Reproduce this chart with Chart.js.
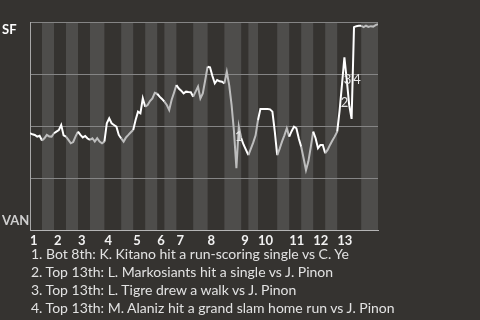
<!DOCTYPE html>
<html>
<head>
<meta charset="utf-8">
<script src="https://cdn.jsdelivr.net/npm/chart.js@4"></script>
<style>
  html, body { margin: 0; padding: 0; background: #353330; }
  #wrap { position: relative; width: 480px; height: 320px; overflow: hidden; }
  #notes { position: absolute; left: 31px; top: 245px; color: #e2e2e2;
           font: 14px Lato, "Noto Sans", sans-serif; line-height: 18px; white-space: nowrap; }
</style>
</head>
<body>
<div id="wrap">
  <canvas id="wpChart" width="480" height="248"></canvas>
  <div id="notes"></div>
</div>
<script>
var innings = ['1', '2', '3', '4', '5', '6', '7', '8', '9', '10', '11', '12', '13'];
// plate appearances in each half inning: top 1, bottom 1, top 2, ...
var halfLengths = [5, 5, 5, 5, 5, 6, 7, 5, 5, 5, 3, 5, 7, 6, 7, 7, 3, 4, 8, 5, 5, 5, 5, 5, 10, 7];
// SF win probability (%) after each plate appearance
var winProb = [
    46.5, 46, 45.7, 44.9, 45.3, 43, 44.1, 45.7, 45, 44.9,
    46.5, 47.3, 48, 50.5, 45.5, 44.9, 43.3, 41.7, 42.3, 45,
    47.3, 45.7, 44.5, 45.2, 44, 43.3, 44.1, 42.5, 44.1, 42.5,
    41.7, 42.5, 51.3, 53.7, 51.3, 50.5, 49.7, 45.7, 44, 42.5,
    44.5, 45.7, 47, 48.1, 52.9, 56.9, 56.1, 63.3, 59.3, 60.1,
    62, 63.3, 66, 65.5, 64.1, 63, 61.7, 60.1, 57.7, 62.5,
    66, 69.7, 68, 67, 65.7, 66.5, 66.3, 66.2, 64.1, 66.5,
    68.9, 63.3, 65.7, 72, 78.5, 78.2, 74, 70.5, 72.1, 71.5,
    71.3, 70.5, 76.1, 69.7, 60, 47.3, 29.7, 49.7, 44.2, 41,
    38.5, 36, 39, 42, 45.5, 52.9, 58.2, 58.2, 58.2, 58.2,
    58, 56.9, 47.3, 36, 39, 42.5, 45.5, 48.9, 44.9, 47.5,
    49.7, 48.9, 44, 40, 34.5, 28.8, 33, 40, 47.3, 44.1,
    39.3, 40.9, 40.9, 36.9, 38.5, 40.9, 43, 45, 47.3, 57.4,
    70, 83, 72, 60, 53.4, 97.5, 98, 98.2, 98.2, 97.5,
    98.2, 97.6, 98, 97.8, 98.5, 99
];
var yTicks = [0, 25, 50, 75, 100];
var teamTop = 'SF';
var teamBottom = 'VAN';
var notes = [
    '1. Bot 8th: K. Kitano hit a run-scoring single vs C. Ye',
    '2. Top 13th: L. Markosiants hit a single vs J. Pinon',
    '3. Top 13th: L. Tigre drew a walk vs J. Pinon',
    '4. Top 13th: M. Alaniz hit a grand slam home run vs J. Pinon'
];
var noteEvents = [87, 129, 131, 135];

// half inning start indices
var halfStarts = [0];
for (var i = 0; i < halfLengths.length; i++) {
    halfStarts.push(halfStarts[i] + halfLengths[i]);
}
var totalPA = halfStarts[halfStarts.length - 1];
var inningStarts = [];
for (var i = 0; i < innings.length; i++) inningStarts.push(halfStarts[i * 2]);

function isBottomHalf(idx) {
    for (var h = 0; h < halfLengths.length; h++) {
        if (idx >= halfStarts[h] && idx < halfStarts[h + 1]) return h % 2 == 1;
    }
    return true;
}

var points = winProb.map(function(v, i) { return {x: i, y: v}; });

document.getElementById('notes').innerHTML = notes.join('<br>');

// label offsets for the numbered events
var noteOffsets = [[0, 10], [5, -8], [3, 22], [3, 53]];

var stripes = {
    id: 'stripes',
    beforeDraw: function(chart) {
        var c = chart.ctx, a = chart.chartArea, x = chart.scales.x;
        c.save();
        c.fillStyle = '#353330';
        c.fillRect(0, 0, chart.width, chart.height);
        c.fillStyle = '#4e4d4b';
        for (var h = 1; h < halfLengths.length; h += 2) {
            var x0 = x.getPixelForValue(halfStarts[h]);
            var x1 = x.getPixelForValue(halfStarts[h + 1]);
            c.fillRect(x0, a.top, x1 - x0, a.bottom - a.top);
        }
        c.restore();
    },
    afterDraw: function(chart) {
        var c = chart.ctx, x = chart.scales.x, y = chart.scales.y;
        c.save();
        c.font = 'bold 13px Lato, "Noto Sans", sans-serif';
        c.textBaseline = 'middle';
        c.textAlign = 'left';
        c.fillStyle = '#ffffff';
        c.fillText(teamTop, 2, y.getPixelForValue(100) + 8);
        c.fillStyle = '#cfcfcf';
        c.fillText(teamBottom, 2, y.getPixelForValue(0) - 9);
        c.font = '13px Lato, "Noto Sans", sans-serif';
        c.textAlign = 'center';
        c.fillStyle = '#e6e6e6';
        for (var n = 0; n < noteEvents.length; n++) {
            var e = noteEvents[n];
            c.fillText(String(n + 1), x.getPixelForValue(e) + noteOffsets[n][0], y.getPixelForValue(winProb[e]) + noteOffsets[n][1]);
        }
        c.restore();
    }
};

var ctx = document.getElementById('wpChart').getContext('2d');
var wpChart = new Chart(ctx, {
    type: 'line',
    data: {
        datasets: [{
            data: points,
            borderColor: '#ffffff',
            borderWidth: 2,
            pointRadius: 0,
            tension: 0,
            segment: {
                borderColor: function(s) {
                    return isBottomHalf(s.p0DataIndex) ? '#bdbdbd' : '#ffffff';
                }
            }
        }]
    },
    plugins: [stripes],
    options: {
        responsive: false,
        animation: false,
        devicePixelRatio: 1,
        layout: { padding: { top: 22, right: 102, left: 0, bottom: 0 } },
        plugins: { legend: { display: false }, tooltip: { enabled: false } },
        scales: {
            x: {
                type: 'linear',
                min: 0,
                max: totalPA,
                afterBuildTicks: function(scale) {
                    scale.ticks = inningStarts.map(function(v) { return {value: v}; });
                },
                afterFit: function(scale) { scale.height = 18; },
                grid: { display: false, drawTicks: false },
                border: { display: true, color: '#b5b5b5', width: 1 },
                ticks: {
                    autoSkip: false,
                    maxRotation: 0,
                    align: 'start',
                    padding: 3,
                    color: '#f2f2f2',
                    font: { family: 'Lato', size: 13, weight: 'bold' },
                    callback: function(value) {
                        var k = inningStarts.indexOf(value);
                        return k >= 0 ? innings[k] : '';
                    }
                }
            },
            y: {
                min: 0,
                max: 100,
                afterBuildTicks: function(scale) {
                    scale.ticks = yTicks.map(function(v) { return {value: v}; });
                },
                afterFit: function(scale) { scale.width = 30; },
                grid: { color: '#858585', drawTicks: false },
                border: { display: true, color: '#a8a8a8', width: 1 },
                ticks: { display: false }
            }
        }
    }
});
</script>
</body>
</html>
